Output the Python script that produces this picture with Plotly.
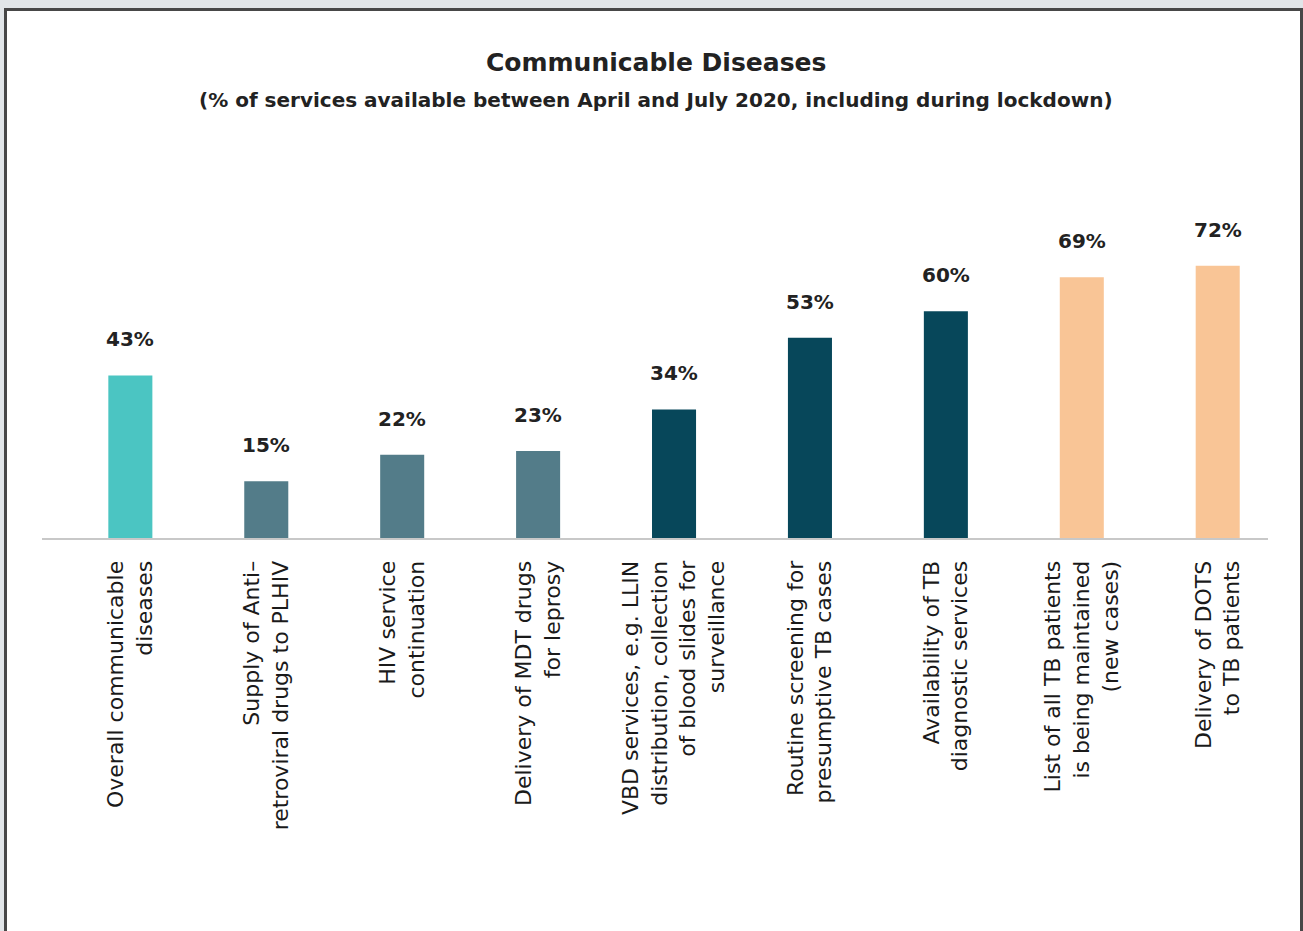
import plotly.graph_objects as go

categories = [
    "Overall communicable<br>diseases",
    "Supply of Anti–<br>retroviral drugs to PLHIV",
    "HIV service<br>continuation",
    "Delivery of MDT drugs<br>for leprosy",
    "VBD services, e.g. LLIN<br>distribution, collection<br>of blood slides for<br>surveillance",
    "Routine screening for<br>presumptive TB cases",
    "Availability of TB<br>diagnostic services",
    "List of all TB patients<br>is being maintained<br>(new cases)",
    "Delivery of DOTS<br>to TB patients",
]
values = [43, 15, 22, 23, 34, 53, 60, 69, 72]
bar_colors = ["#4BC5C2", "#537C89", "#537C89", "#537C89", "#07475A",
              "#07475A", "#07475A", "#F9C596", "#F9C596"]

title_text = "Communicable Diseases"
subtitle_text = "(% of services available between April and July 2020, including during lockdown)"

W, H = 1303, 931
ML, MR, MT, MB = 42, 35, 160, 393
PW, PH = W - ML - MR, H - MT - MB

def px_x(x):
    return (x - ML) / PW

def px_y(y):
    return 1 - (y - MT) / PH

idx = list(range(len(categories)))

fig = go.Figure()
fig.add_trace(go.Bar(
    x=idx, y=values, marker=dict(color=bar_colors, line=dict(width=0)),
    width=0.324, hoverinfo="skip",
))

for i, v in zip(idx, values):
    fig.add_annotation(
        x=i, y=v, xref="x", yref="y", text=f"<b>{v}%</b>", showarrow=False,
        yanchor="middle", yshift=36,
        font=dict(family="DejaVu Sans", size=20, color="#222222"),
    )

fig.add_annotation(
    x=px_x(656), y=px_y(63), xref="paper", yref="paper",
    text=f"<b>{title_text}</b>", showarrow=False, xanchor="center", yanchor="middle",
    font=dict(family="DejaVu Sans", size=25, color="#222222"),
)
fig.add_annotation(
    x=px_x(656), y=px_y(100), xref="paper", yref="paper",
    text=f"<b>{subtitle_text}</b>", showarrow=False, xanchor="center", yanchor="middle",
    font=dict(family="DejaVu Sans", size=20, color="#222222"),
)

fig.add_shape(
    type="rect", xref="paper", yref="paper", layer="below",
    x0=px_x(5.5), x1=px_x(1301.5), y0=px_y(960), y1=px_y(9.5),
    fillcolor="white", line=dict(color="#474747", width=3),
)

fig.update_layout(
    width=W, height=H,
    margin=dict(l=ML, r=MR, t=MT, b=MB, autoexpand=False),
    paper_bgcolor="#E1E5E8", plot_bgcolor="rgba(0,0,0,0)",
    showlegend=False,
    xaxis=dict(
        range=[-0.65, 8.37], tickvals=idx, ticktext=categories, tickangle=-90,
        showgrid=False, zeroline=False, showline=True, linecolor="#C8C8C8", linewidth=2,
        ticks="", ticklabelstandoff=12,
        tickfont=dict(family="DejaVu Sans", size=22, color="#1a1a1a"),
        fixedrange=True,
    ),
    yaxis=dict(range=[0, 100], visible=False, fixedrange=True),
)

fig.write_html(
    "out.html",
    config={"displayModeBar": False},
    post_script="document.body.style.margin='0';document.body.style.overflow='hidden';",
)
